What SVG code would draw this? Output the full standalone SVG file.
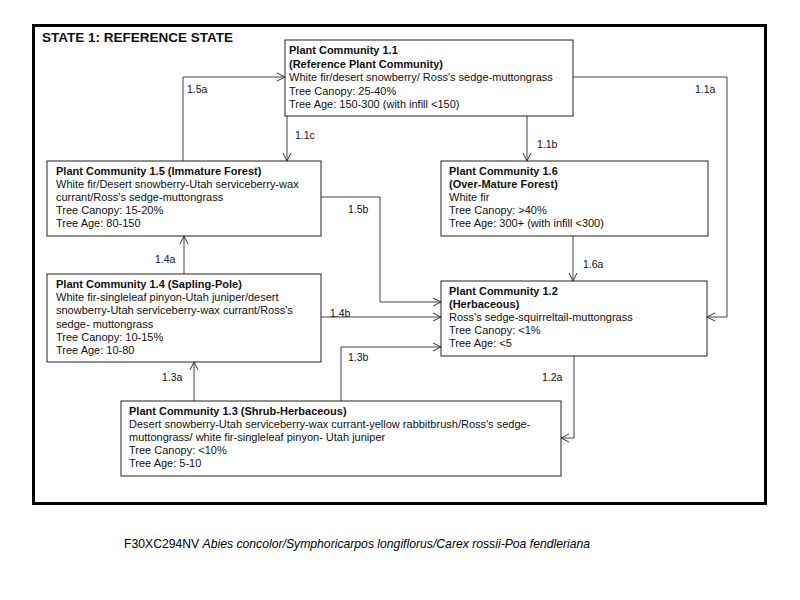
<svg xmlns="http://www.w3.org/2000/svg" width="800" height="600" viewBox="0 0 800 600">
<defs>
<marker id="ah" markerWidth="10" markerHeight="10" refX="9" refY="5" orient="auto" markerUnits="userSpaceOnUse">
<path d="M1,1 L9,5 L1,9" fill="none" stroke="#333" stroke-width="1"/>
</marker>
</defs>
<style>
text{font-family:"Liberation Sans",Arial,sans-serif;fill:#111;}
.t{font-size:11px;}
.b{font-size:11px;font-weight:bold;}
.lbl{font-size:10.5px;}
.box{fill:#fff;stroke:#222;stroke-width:1;}
.c{fill:none;stroke:#444;stroke-width:1;marker-end:url(#ah);}
</style>
<rect width="800" height="600" fill="#fff"/>
<rect x="33.5" y="25.5" width="732" height="478" fill="none" stroke="#000" stroke-width="3"/>
<text x="42" y="42" style="font-size:13.5px;font-weight:bold;">STATE 1: REFERENCE STATE</text>

<g id="connectors">
<polyline class="c" points="183,161 183,77 285,77"/>
<polyline class="c" points="287,116 287,161"/>
<polyline class="c" points="527,116 527,161"/>
<polyline class="c" points="573,77 727,77 727,317 707,317"/>
<polyline class="c" points="573,236 573,281"/>
<polyline class="c" points="321,197 380,197 380,302 441,302"/>
<polyline class="c" points="321,317 441,317"/>
<polyline class="c" points="341,401 341,347 441,347"/>
<polyline class="c" points="574,356 574,438 561,438"/>
<polyline class="c" points="184,274 184,236"/>
<polyline class="c" points="194,401 194,362"/>
<text class="lbl" x="187" y="93">1.5a</text>
<text class="lbl" x="295" y="139">1.1c</text>
<text class="lbl" x="537" y="148">1.1b</text>
<text class="lbl" x="695" y="93">1.1a</text>
<text class="lbl" x="583" y="268">1.6a</text>
<text class="lbl" x="348" y="213">1.5b</text>
<text class="lbl" x="330" y="317">1.4b</text>
<text class="lbl" x="348" y="361">1.3b</text>
<text class="lbl" x="542" y="381">1.2a</text>
<text class="lbl" x="155" y="263">1.4a</text>
<text class="lbl" x="162" y="381">1.3a</text>
</g>

<g id="pc11">
<rect class="box" x="285" y="40" width="288" height="76"/>
<text class="b" x="289" y="54">Plant Community 1.1</text>
<text class="b" x="289" y="67.5">(Reference Plant Community)</text>
<text class="t" x="289" y="81">White fir/desert snowberry/ Ross's sedge-muttongrass</text>
<text class="t" x="289" y="94.5">Tree Canopy: 25-40%</text>
<text class="t" x="289" y="108">Tree Age: 150-300  (with infill &lt;150)</text>
</g>

<g id="pc15">
<rect class="box" x="47" y="161" width="274" height="75"/>
<text class="b" x="56" y="175">Plant Community 1.5 (Immature Forest)</text>
<text class="t" x="56" y="188">White fir/Desert snowberry-Utah serviceberry-wax</text>
<text class="t" x="56" y="201">currant/Ross's sedge-muttongrass</text>
<text class="t" x="56" y="214">Tree Canopy: 15-20%</text>
<text class="t" x="56" y="227">Tree Age: 80-150</text>
</g>

<g id="pc16">
<rect class="box" x="441" y="161" width="267" height="75"/>
<text class="b" x="449" y="175">Plant Community 1.6</text>
<text class="b" x="449" y="188">(Over-Mature Forest)</text>
<text class="t" x="449" y="201">White fir</text>
<text class="t" x="449" y="214">Tree Canopy: &gt;40%</text>
<text class="t" x="449" y="227">Tree Age: 300+ (with infill &lt;300)</text>
</g>

<g id="pc14">
<rect class="box" x="47" y="274" width="274" height="88"/>
<text class="b" x="56" y="288">Plant Community 1.4 (Sapling-Pole)</text>
<text class="t" x="56" y="301">White fir-singleleaf pinyon-Utah juniper/desert</text>
<text class="t" x="56" y="314">snowberry-Utah serviceberry-wax  currant/Ross's</text>
<text class="t" x="56" y="327.5">sedge- muttongrass</text>
<text class="t" x="56" y="340.5">Tree Canopy: 10-15%</text>
<text class="t" x="56" y="354">Tree Age: 10-80</text>
</g>

<g id="pc12">
<rect class="box" x="441" y="281" width="266" height="75"/>
<text class="b" x="449" y="295">Plant Community 1.2</text>
<text class="b" x="449" y="308">(Herbaceous)</text>
<text class="t" x="449" y="321">Ross's sedge-squirreltail-muttongrass</text>
<text class="t" x="449" y="334">Tree Canopy: &lt;1%</text>
<text class="t" x="449" y="347">Tree Age: &lt;5</text>
</g>

<g id="pc13">
<rect class="box" x="121" y="401" width="440" height="75"/>
<text class="b" x="129" y="415">Plant Community 1.3 (Shrub-Herbaceous)</text>
<text class="t" x="129" y="428">Desert snowberry-Utah serviceberry-wax  currant-yellow rabbitbrush/Ross's sedge-</text>
<text class="t" x="129" y="441">muttongrass/ white fir-singleleaf pinyon- Utah juniper</text>
<text class="t" x="129" y="454">Tree Canopy: &lt;10%</text>
<text class="t" x="129" y="467">Tree Age: 5-10</text>
</g>

<text x="124" y="548" style="font-size:12.2px;fill:#000;">F30XC294NV  <tspan font-style="italic">Abies concolor/Symphoricarpos longiflorus/Carex rossii-Poa fendleriana</tspan></text>
</svg>
